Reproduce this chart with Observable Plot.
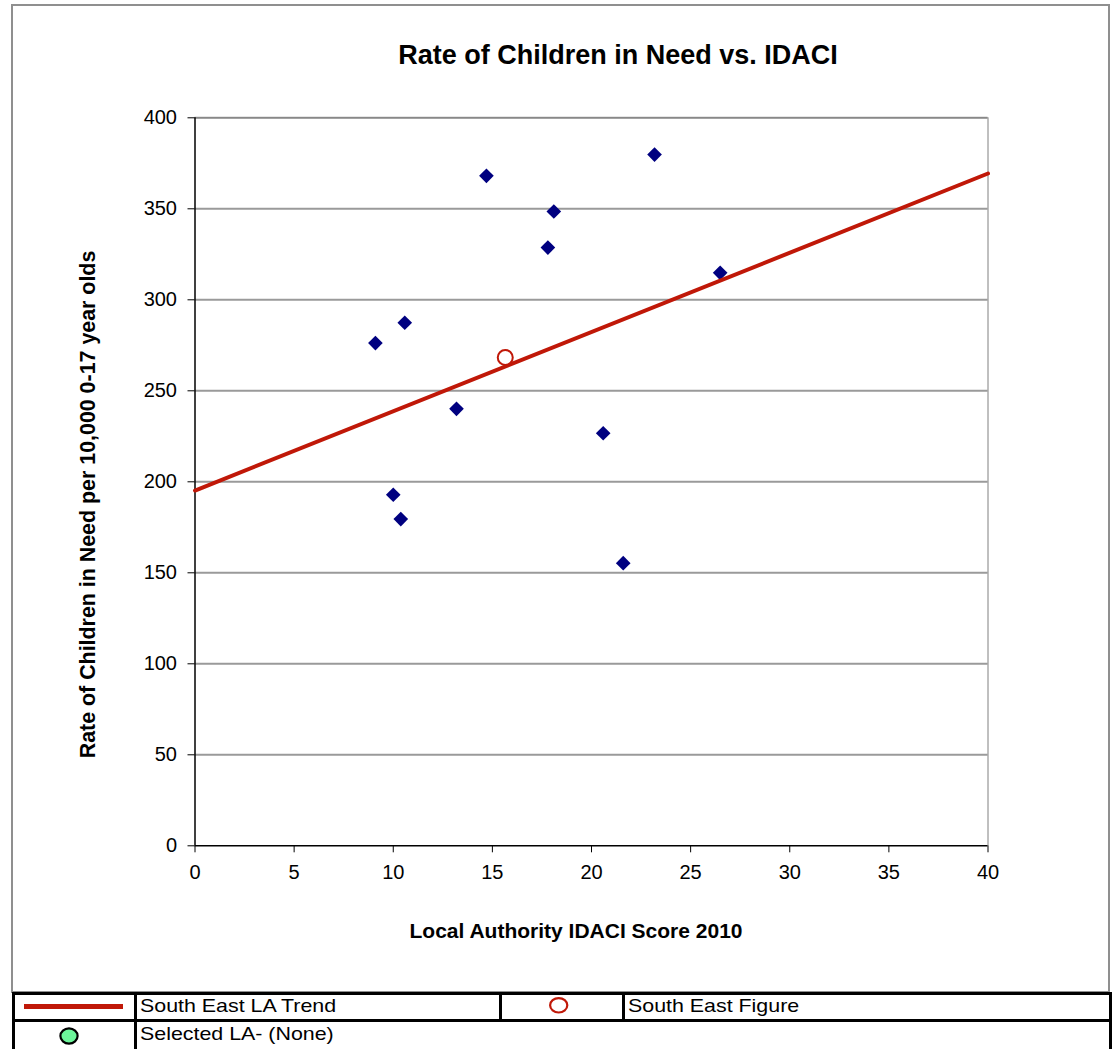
<!DOCTYPE html>
<html><head><meta charset="utf-8">
<script src="https://cdn.jsdelivr.net/npm/d3@7"></script>
<script src="https://cdn.jsdelivr.net/npm/@observablehq/plot@0.6"></script>
<style>
body{margin:0;background:#fff;font-family:Arial,"Liberation Sans",sans-serif;}
#wrap{position:relative;width:1113px;height:1049px;overflow:hidden;background:#fff;}
#frame{position:absolute;left:11px;top:4px;width:1099px;height:989px;border:2px solid #8f8f8f;box-sizing:border-box;}
#chart{position:absolute;left:0;top:0;}
.ln{position:absolute;background:#000;}
.lt{position:absolute;font-size:18.6px;line-height:1;color:#000;white-space:nowrap;transform:scaleX(1.15);transform-origin:0 0;}
#legsvg{position:absolute;left:0;top:0;}
</style></head><body>
<div id="wrap"><div id="frame"></div><div id="chart"></div><div id="legend"></div></div>
<script>
// ---- data ----
const laIdaci = [9.10, 10.58, 10.00, 10.38, 13.19, 14.70, 17.80, 18.10, 20.59, 21.60, 23.18, 26.49];
const laRate  = [276.2, 287.4, 192.9, 179.5, 240.1, 368.1, 328.7, 348.5, 226.7, 155.3, 379.8, 314.8];
const seIdaci = [15.65];
const seRate  = [268.3];
const trendIdaci = [0, 40];
const trendRate  = [195.2, 369.4];
const xTicks = [0, 5, 10, 15, 20, 25, 30, 35, 40];
const yTicks = [0, 50, 100, 150, 200, 250, 300, 350, 400];
const titleText = "Rate of Children in Need vs. IDACI";
const xLabel = "Local Authority IDACI Score 2010";
const yLabel = "Rate of Children in Need per 10,000 0-17 year olds";
const legendLabels = ["South East LA Trend", "South East Figure", "Selected LA- (None)"];

const RED = "#c01808", NAVY = "#000080", GREEN = "#6cf59a";

const laData = laIdaci.map((x, i) => ({x, y: laRate[i]}));
const seData = seIdaci.map((x, i) => ({x, y: seRate[i]}));
const trendData = trendIdaci.map((x, i) => ({x, y: trendRate[i]}));

const plot = Plot.plot({
  width: 1113, height: 992,
  marginLeft: 194.5, marginRight: 125.5, marginTop: 117.3, marginBottom: 146.7,
  x: {domain: [0, 40]},
  y: {domain: [0, 400]},
  style: {fontFamily: 'Arial, "Liberation Sans", sans-serif', fontSize: "20px", color: "#000", background: "transparent", overflow: "visible"},
  marks: [
    Plot.ruleY(yTicks.filter(d => d > 0), {stroke: "#9a9a9a", strokeWidth: 2}),
    Plot.ruleY([400], {stroke: "#808080", strokeWidth: 1}),
    Plot.ruleX([40], {stroke: "#808080", strokeWidth: 1}),
    Plot.axisY({ticks: yTicks, tickSize: 7, tickPadding: 11, label: null, tickFormat: d => String(d), fontSize: 20}),
    Plot.axisX({ticks: xTicks, tickSize: 7, tickPadding: 12, label: null, tickFormat: d => String(d), fontSize: 20}),
    Plot.ruleX([0], {stroke: "#000", strokeWidth: 1.5}),
    Plot.ruleY([0], {stroke: "#000", strokeWidth: 1.5}),
    Plot.dot(laData, {x: "x", y: "y", symbol: "diamond2", r: 6.6, fill: NAVY, stroke: "none"}),
    Plot.line(trendData, {x: "x", y: "y", stroke: RED, strokeWidth: 4}),
    Plot.dot(seData, {x: "x", y: "y", r: 7.5, fill: "white", stroke: RED, strokeWidth: 2}),
    Plot.text([titleText], {text: d => d, frameAnchor: "top", textAnchor: "middle", dx: 26.5, dy: -54, lineAnchor: "bottom", fontSize: 27, fontWeight: "bold"}),
    Plot.text([xLabel], {text: d => d, frameAnchor: "bottom", textAnchor: "middle", dx: -15.5, dy: 92, lineAnchor: "bottom", fontSize: 21, fontWeight: "bold"}),
    Plot.text([yLabel], {text: d => d, frameAnchor: "left", textAnchor: "middle", rotate: -90, dx: -100.5, dy: 22.7, lineAnchor: "bottom", fontSize: 21.4, fontWeight: "bold"})
  ]
});
document.getElementById("chart").appendChild(plot);

// ---- legend table (below the chart) ----
const leg = document.getElementById("legend");
function line(l, t, w, h) {
  const d = document.createElement("div");
  d.className = "ln";
  Object.assign(d.style, {left: l + "px", top: t + "px", width: w + "px", height: h + "px"});
  leg.appendChild(d);
}
line(12, 991.5, 1100, 3);   // top
line(12, 1019.2, 1100, 3);  // row divider
line(12, 991.5, 3, 60);     // left
line(1109, 991.5, 3, 60);   // right
line(134, 991.5, 3, 60);    // col 1
line(499.3, 991.5, 3, 30);  // col 2 (row 1)
line(621.6, 991.5, 3, 30);  // col 3 (row 1)

function label(txt, l, baseline) {
  const d = document.createElement("div");
  d.className = "lt";
  d.textContent = txt;
  d.style.left = l + "px";
  d.style.top = (baseline - 0.905 * 18.6) + "px";
  leg.appendChild(d);
}
label(legendLabels[0], 140, 1013.5);
label(legendLabels[1], 627.5, 1013.5);
label(legendLabels[2], 140, 1042.3);

const svg = d3.select("#wrap").append("svg").attr("id", "legsvg").attr("width", 1113).attr("height", 1049)
  .style("pointer-events", "none");
svg.append("line").attr("x1", 24).attr("x2", 123).attr("y1", 1006.5).attr("y2", 1006.5)
  .attr("stroke", RED).attr("stroke-width", 5);
svg.append("ellipse").attr("cx", 558.7).attr("cy", 1005.3).attr("rx", 8.6).attr("ry", 7.2)
  .attr("fill", "white").attr("stroke", RED).attr("stroke-width", 2.2);
svg.append("ellipse").attr("cx", 69).attr("cy", 1036).attr("rx", 8.6).attr("ry", 7.6)
  .attr("fill", GREEN).attr("stroke", "#000").attr("stroke-width", 2.2);
</script>
</body></html>
